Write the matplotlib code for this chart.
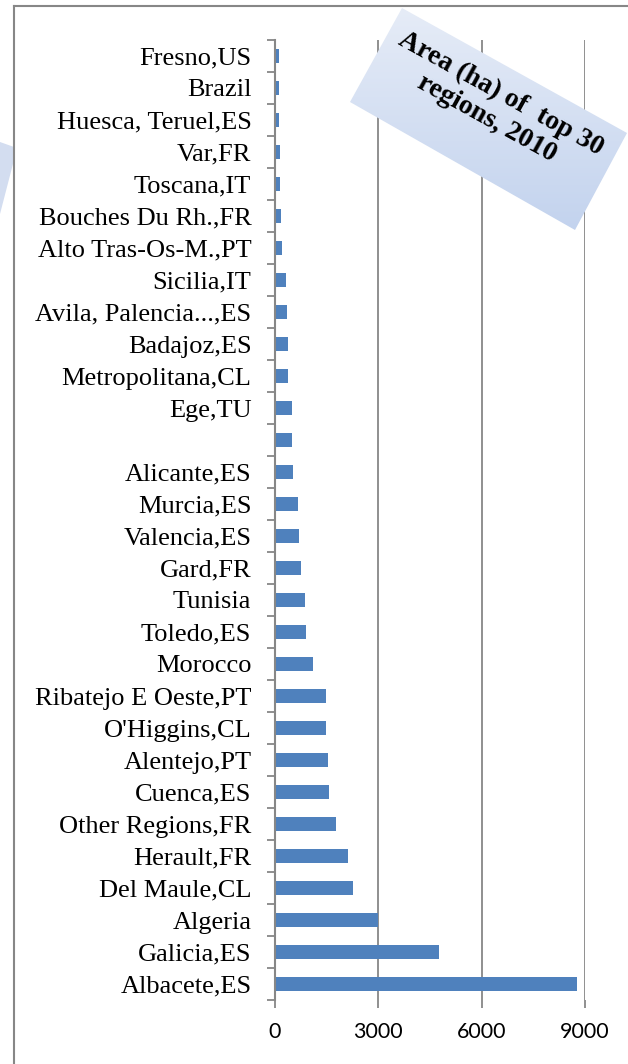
import matplotlib.pyplot as plt
import numpy as np
from matplotlib.patches import Polygon
from matplotlib.colors import LinearSegmentedColormap

# categories listed bottom -> top
regions = [
    "Albacete,ES", "Galicia,ES", "Algeria", "Del Maule,CL", "Herault,FR",
    "Other Regions,FR", "Cuenca,ES", "Alentejo,PT", "O'Higgins,CL",
    "Ribatejo E Oeste,PT", "Morocco", "Toledo,ES", "Tunisia", "Gard,FR",
    "Valencia,ES", "Murcia,ES", "Alicante,ES", "", "Ege,TU",
    "Metropolitana,CL", "Badajoz,ES", "Avila, Palencia...,ES", "Sicilia,IT",
    "Alto Tras-Os-M.,PT", "Bouches Du Rh.,FR", "Toscana,IT", "Var,FR",
    "Huesca, Teruel,ES", "Brazil", "Fresno,US",
]
area_ha = [
    8780, 4770, 3000, 2260, 2110,
    1770, 1570, 1530, 1480,
    1470, 1100, 890, 860, 744,
    695, 657, 513, 505, 484,
    375, 365, 340, 310,
    210, 170, 145, 145,
    130, 125, 110,
]
xticks = [0, 3000, 6000, 9000]

W, H = 628, 1064
GRID = "#878787"
BAR = "#4F81BD"

fig = plt.figure(figsize=(W / 100, H / 100), dpi=100)

ax = fig.add_axes([275 / W, 1 - 1000 / H, (585 - 275) / W, (1000 - 40) / H])
y = np.arange(len(regions))
ax.barh(y, area_ha, height=0.42, color=BAR, zorder=3)

ax.set_xlim(0, 9000)
ax.set_ylim(-0.5, len(regions) - 0.5)
ax.set_xticks(xticks)
ax.set_xticklabels([str(v) for v in xticks], family="Lato", fontsize=15.5)
ax.set_yticks(y)
ax.set_yticklabels(regions, family="Liberation Serif", fontsize=19)
ax.set_yticks(np.arange(len(regions) + 1) - 0.5, minor=True)

ax.tick_params(axis="y", which="major", length=0, pad=17)
ax.tick_params(axis="y", which="minor", length=5.5, width=1.3, color=GRID, direction="out")
ax.tick_params(axis="x", length=6, width=1.3, color=GRID, direction="out", pad=10)

ax.grid(axis="x", color=GRID, linewidth=1.3, zorder=0)
for s in ["top", "right", "bottom"]:
    ax.spines[s].set_visible(False)
ax.spines["left"].set_color(GRID)
ax.spines["left"].set_linewidth(1.5)
ax.spines["left"].set_zorder(4)

# overlay in pixel coordinates for frame and title box
ov = fig.add_axes([0, 0, 1, 1], zorder=5)
ov.set_xlim(0, W)
ov.set_ylim(H, 0)
ov.axis("off")
ov.patch.set_alpha(0)

# partial box at the left edge
ov.add_patch(Polygon([(0, 142), (14, 147), (14, 160), (0, 214)], closed=True,
                     facecolor="#d3ddf0", edgecolor="none"))

# frame
ov.plot([14, 14], [6, H], color=GRID, lw=1.5)
ov.plot([14, W], [6, 6], color=GRID, lw=1.5)

# rotated title box with gradient
corners = [(402, 8), (627, 133), (575, 230), (350, 102)]
poly = Polygon(corners, closed=True, facecolor="none", edgecolor="none")
ov.add_patch(poly)
grad = np.linspace(0, 1, 256).reshape(-1, 1)
cmap = LinearSegmentedColormap.from_list("g", ["#e6ecf7", "#c3d3ee"])
im = ov.imshow(grad, cmap=cmap, extent=[350, 627, 230, 8], aspect="auto", zorder=6)
im.set_clip_path(poly)

ov.text(494, 106, "Area (ha) of  top 30\nregions, 2010", rotation=-29,
        rotation_mode="anchor", ha="center", va="center", family="Liberation Serif",
        fontweight="bold", fontsize=20, linespacing=1.2, zorder=7)

fig.savefig("out.png", dpi=100)
